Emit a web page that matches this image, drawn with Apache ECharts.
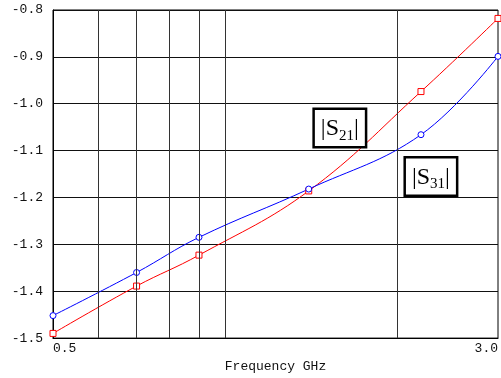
<!DOCTYPE html>
<html>
<head>
<meta charset="utf-8">
<script src="https://cdn.jsdelivr.net/npm/echarts@6/dist/echarts.min.js"></script>
<style>html,body{margin:0;padding:0;background:#fff;}#c{width:501px;height:378px;}</style>
</head>
<body>
<div id="c"></div>
<script>
// Data
const freqs = [0.5, 0.7, 0.9, 1.4, 2.2, 3.0];
const s21 = [-1.490, -1.389, -1.323, -1.186, -0.974, -0.818];
const s31 = [-1.452, -1.360, -1.285, -1.182, -1.066, -0.899];
const gridFreqs = [0.6, 0.7, 0.8, 0.9, 1.0, 2.0];
const xLabelValues = [0.5, 3.0];
const xTitle = 'Frequency GHz';
const s21LabelCoord = [1.587, -1.052];
const s31LabelCoord = [2.29, -1.155];

const monoFont = 'Liberation Mono';

function boxLabel(sub) {
  return {
    show: true,
    position: 'inside',
    formatter: '{a||S}{b|' + sub + '}{a||}',
    backgroundColor: '#fff',
    borderColor: '#000',
    borderWidth: 2.5,
    padding: [5, 6, 3, 6],
    rich: {
      a: { fontFamily: 'Liberation Serif', fontSize: 24, color: '#000', lineHeight: 28 },
      b: { fontFamily: 'Liberation Serif', fontSize: 15, color: '#000', verticalAlign: 'bottom', lineHeight: 28 }
    }
  };
}

const chart = echarts.init(document.getElementById('c'), null, { renderer: 'canvas' });
chart.setOption({
  animation: false,
  backgroundColor: '#fff',
  grid: { left: 53, right: 2, top: 10, bottom: 33, show: true, borderColor: '#000', borderWidth: 1 },
  xAxis: {
    type: 'log',
    logBase: 10,
    min: 0.5,
    max: 3.0,
    name: xTitle,
    nameLocation: 'middle',
    nameGap: 15,
    nameTextStyle: { fontFamily: monoFont, fontSize: 13, color: '#111' },
    axisLine: { show: true, lineStyle: { color: '#000', width: 1 } },
    axisTick: { show: false },
    splitLine: { show: false },
    axisLabel: {
      customValues: xLabelValues,
      showMinLabel: true,
      showMaxLabel: true,
      alignMinLabel: 'left',
      alignMaxLabel: 'right',
      margin: 4,
      fontFamily: monoFont,
      fontSize: 13,
      color: '#111',
      formatter: function (v) { return Number(v).toFixed(1); }
    }
  },
  yAxis: {
    type: 'value',
    min: -1.5,
    max: -0.8,
    interval: 0.1,
    axisLine: { show: true, lineStyle: { color: '#000', width: 1 } },
    axisTick: { show: false },
    splitLine: { show: true, lineStyle: { color: '#111', width: 1 } },
    axisLabel: {
      margin: 10,
      fontFamily: monoFont,
      fontSize: 13,
      color: '#111',
      formatter: function (v) { return v.toFixed(1); }
    }
  },
  series: [
    {
      type: 'line',
      name: 'grid',
      data: [],
      silent: true,
      z: 1,
      markLine: {
        silent: true,
        symbol: 'none',
        label: { show: false },
        lineStyle: { color: '#333', width: 1, type: 'solid' },
        data: gridFreqs.map(function (f) { return { xAxis: f }; })
      }
    },
    {
      type: 'line',
      name: '|S21|',
      data: freqs.map(function (f, i) { return [f, s21[i]]; }),
      smooth: 0.4,
      clip: false,
      z: 3,
      symbol: 'rect',
      symbolSize: 6,
      showAllSymbol: true,
      lineStyle: { color: '#ff0000', width: 1 },
      itemStyle: { color: '#fff', borderColor: '#ff0000', borderWidth: 1 },
      markPoint: {
        symbol: 'rect',
        symbolSize: 1,
        itemStyle: { color: 'rgba(0,0,0,0)' },
        label: boxLabel('21'),
        data: [{ coord: s21LabelCoord }]
      }
    },
    {
      type: 'line',
      name: '|S31|',
      data: freqs.map(function (f, i) { return [f, s31[i]]; }),
      smooth: 0.4,
      clip: false,
      z: 3,
      symbol: 'circle',
      symbolSize: 6,
      showAllSymbol: true,
      lineStyle: { color: '#0000ff', width: 1 },
      itemStyle: { color: '#fff', borderColor: '#0000ff', borderWidth: 1 },
      markPoint: {
        symbol: 'rect',
        symbolSize: 1,
        itemStyle: { color: 'rgba(0,0,0,0)' },
        label: boxLabel('31'),
        data: [{ coord: s31LabelCoord }]
      }
    }
  ]
});
</script>
</body>
</html>
